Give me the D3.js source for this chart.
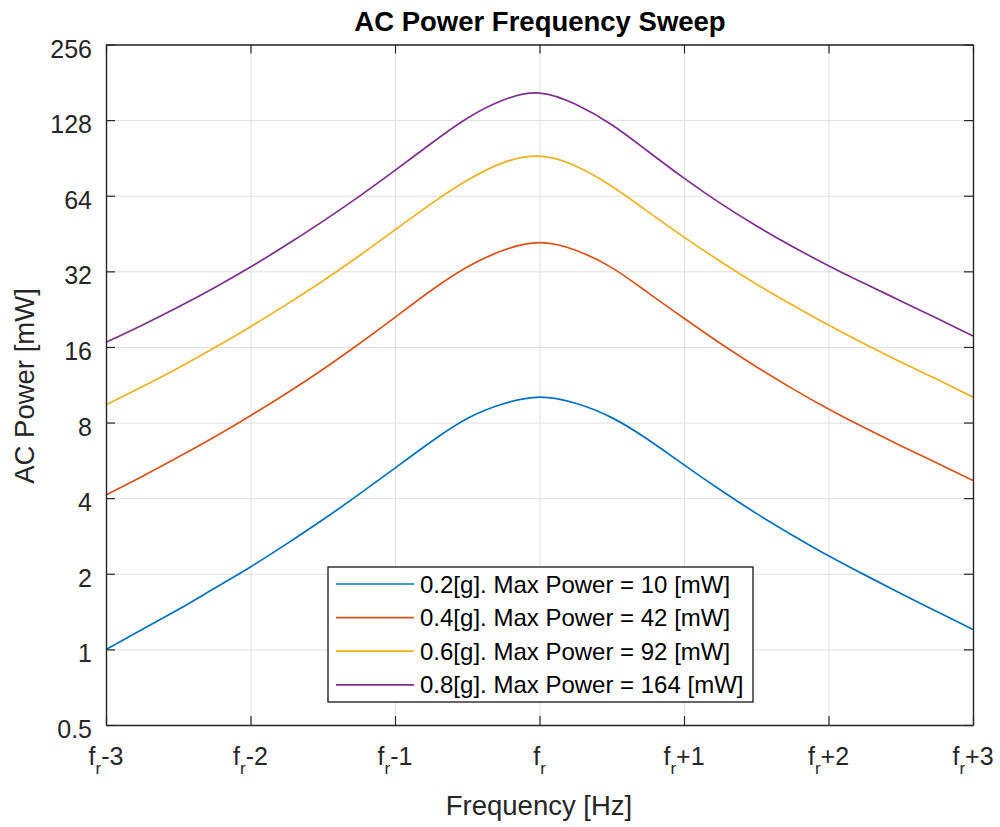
<!DOCTYPE html>
<html lang="en">
<head>
<meta charset="utf-8">
<title>AC Power Frequency Sweep</title>
<script src="https://d3js.org/d3.v7.min.js"></script>
<style>
  body { margin: 0; background: #fff; }
  svg text { font-family: "Liberation Sans", Arial, Helvetica, sans-serif; fill: #262626; }
</style>
</head>
<body>
<div id="chart"></div>
<script>
// frequency offset from f_r [Hz]
var freqOffsets = [-3, -2.75, -2.5, -2.25, -2, -1.75, -1.5, -1.25, -1, -0.75, -0.5, -0.25, 0,
                   0.25, 0.5, 0.75, 1, 1.25, 1.5, 1.75, 2, 2.25, 2.5, 2.75, 3];

// AC power [mW]
var power02 = [1.0, 1.2, 1.44, 1.75, 2.13, 2.63, 3.28, 4.14, 5.27, 6.71, 8.3, 9.5, 10.1,
               9.55, 8.37, 6.85, 5.43, 4.32, 3.48, 2.85, 2.36, 1.98, 1.67, 1.415, 1.2];
var power04 = [4.12, 4.88, 5.83, 7.01, 8.52, 10.47, 13.02, 16.43, 20.97, 26.83, 33.3, 38.8, 41.6,
               38.83, 33.1, 26.33, 20.81, 16.55, 13.35, 10.92, 9.06, 7.62, 6.47, 5.52, 4.7];
var power06 = [9.4, 11.1, 13.2, 15.87, 19.27, 23.64, 29.3, 36.83, 46.8, 59.4, 73.7, 86.7, 92,
               84.1, 69.8, 55.3, 43.8, 35.1, 28.5, 23.5, 19.55, 16.44, 13.95, 11.9, 10.1];
var power08 = [16.7, 19.54, 23.07, 27.55, 33.3, 40.8, 50.6, 63.5, 80.7, 103.3, 130.2, 153.9, 164,
               147.9, 122.6, 96.2, 75.2, 59.8, 48.6, 40.2, 33.7, 28.6, 24.4, 20.8, 17.7];

var seriesNames = ["0.2[g]. Max Power = 10 [mW]", "0.4[g]. Max Power = 42 [mW]",
                   "0.6[g]. Max Power = 92 [mW]", "0.8[g]. Max Power = 164 [mW]"];
var seriesColors = ["#0072BD", "#D95319", "#EDB120", "#7E2F8E"];
var seriesValues = [power02, power04, power06, power08];

var xTicks = [-3, -2, -1, 0, 1, 2, 3];
var xTickSuffix = ["-3", "-2", "-1", "", "+1", "+2", "+3"];
var yTicks = [0.5, 1, 2, 4, 8, 16, 32, 64, 128, 256];

var W = 1000, H = 827;
// plot box (window.top is reserved, so prefixed names)
var pLeft = 106, pRight = 973, pTop = 44.5, pBottom = 725;
var axisColor = "#262626";

var svg = d3.select("#chart").append("svg")
  .attr("width", W).attr("height", H);

var x = d3.scaleLinear().domain([-3, 3]).range([pLeft, pRight]);
var y = d3.scaleLog().base(2).domain([0.5, 256]).range([pBottom, pTop]);

// grid
svg.append("g")
  .attr("transform", "translate(0," + pBottom + ")")
  .call(d3.axisBottom(x).tickValues(xTicks).tickSize(-(pBottom - pTop)).tickFormat(""))
  .call(function(g) {
    g.select(".domain").remove();
    g.selectAll("line").attr("stroke", "#dfdfdf").attr("stroke-width", 1);
  });
svg.append("g")
  .attr("transform", "translate(" + pLeft + ",0)")
  .call(d3.axisLeft(y).tickValues(yTicks).tickSize(-(pRight - pLeft)).tickFormat(""))
  .call(function(g) {
    g.select(".domain").remove();
    g.selectAll("line").attr("stroke", "#dfdfdf").attr("stroke-width", 1);
  });

// curves
var line = d3.line()
  .x(function(d, i) { return x(freqOffsets[i]); })
  .y(function(d) { return y(d); })
  .curve(d3.curveNatural);

seriesValues.forEach(function(vals, k) {
  svg.append("path")
    .datum(vals)
    .attr("fill", "none")
    .attr("stroke", seriesColors[k])
    .attr("stroke-width", 1.7)
    .attr("d", line);
});

// axes, ticks pointing inward on all four sides
function styleAxis(g) {
  g.select(".domain").attr("stroke", axisColor).attr("stroke-width", 1.4);
  g.selectAll(".tick line").attr("stroke", axisColor).attr("stroke-width", 1.2);
  g.selectAll(".tick text").attr("font-size", 25).attr("fill", axisColor)
    .attr("font-family", "'Liberation Sans', Arial, sans-serif");
}

svg.append("g")
  .attr("transform", "translate(" + pLeft + ",0)")
  .call(d3.axisLeft(y).tickValues(yTicks).tickSize(-9).tickSizeOuter(0).tickPadding(14)
    .tickFormat(function(d) { return d < 1 ? d3.format(".1f")(d) : d; }))
  .call(styleAxis)
  .call(function(g) { g.selectAll(".tick text").attr("dy", "0.5em"); });

svg.append("g")
  .attr("transform", "translate(" + pRight + ",0)")
  .call(d3.axisRight(y).tickValues(yTicks).tickSize(-9).tickSizeOuter(0).tickFormat(""))
  .call(styleAxis);

svg.append("g")
  .attr("transform", "translate(0," + pBottom + ")")
  .call(d3.axisBottom(x).tickValues(xTicks).tickSize(-9).tickSizeOuter(0).tickFormat(""))
  .call(styleAxis);

svg.append("g")
  .attr("transform", "translate(0," + pTop + ")")
  .call(d3.axisTop(x).tickValues(xTicks).tickSize(-9).tickSizeOuter(0).tickFormat(""))
  .call(styleAxis);

// x tick labels f_r +/- n
xTicks.forEach(function(t, i) {
  var txt = svg.append("text")
    .attr("x", x(t))
    .attr("y", 765)
    .attr("text-anchor", "middle")
    .attr("font-size", 25);
  txt.append("tspan").text("f");
  txt.append("tspan").attr("dy", 9).attr("font-size", 17).text("r");
  if (xTickSuffix[i]) txt.append("tspan").attr("dy", -9).text(xTickSuffix[i]);
});

// title and axis labels
svg.append("text")
  .attr("x", 540).attr("y", 31)
  .attr("text-anchor", "middle")
  .attr("font-size", 27.5)
  .attr("font-weight", "bold")
  .style("fill", "#000")
  .text("AC Power Frequency Sweep");

svg.append("text")
  .attr("x", 539).attr("y", 815)
  .attr("text-anchor", "middle")
  .attr("font-size", 27.5)
  .text("Frequency [Hz]");

svg.append("text")
  .attr("transform", "translate(34,386) rotate(-90)")
  .attr("text-anchor", "middle")
  .attr("font-size", 27.5)
  .text("AC Power [mW]");

// legend
var legend = svg.append("g");
legend.append("rect")
  .attr("x", 328).attr("y", 567)
  .attr("width", 425).attr("height", 135)
  .attr("fill", "#fff")
  .attr("stroke", axisColor)
  .attr("stroke-width", 1.4);

seriesNames.forEach(function(name, k) {
  var cy = 584 + k * 33.6;
  legend.append("line")
    .attr("x1", 336).attr("x2", 414)
    .attr("y1", cy).attr("y2", cy)
    .attr("stroke", seriesColors[k])
    .attr("stroke-width", 1.7);
  legend.append("text")
    .attr("x", 420).attr("y", cy)
    .attr("dy", "0.36em")
    .attr("font-size", 24)
    .style("fill", "#000")
    .text(name);
});
</script>
</body>
</html>
